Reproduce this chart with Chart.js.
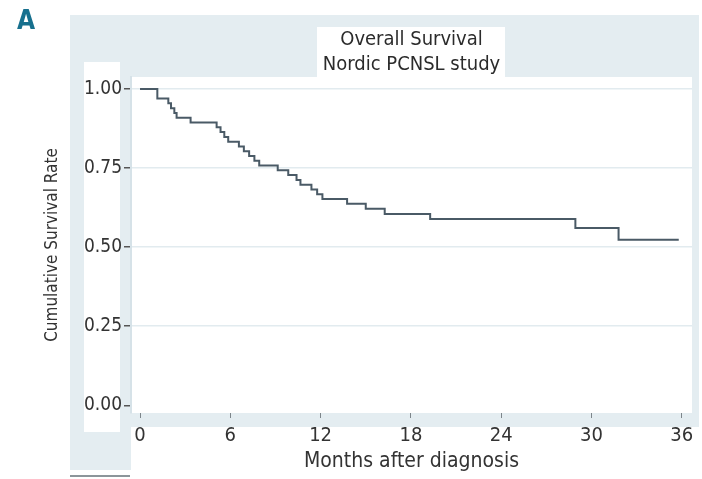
<!DOCTYPE html>
<html lang="en">
<head>
  <meta charset="UTF-8" />
  <title>Overall Survival - Nordic PCNSL study</title>
  <script src="https://cdn.jsdelivr.net/npm/chart.js"></script>
  <style>
    body {
      margin: 0;
      background: white;
    }
    #wrap {
      width: 702px;
      height: 479px;
    }
  </style>
</head>
<body>
  <div id="wrap"><canvas id="osChart"></canvas></div>

  <script>
    // Kaplan-Meier steps (months, cumulative survival)
    const months = [0, 1.15, 1.88, 2.06, 2.28, 2.43, 3.36, 5.09, 5.35, 5.6, 5.86,
      6.57, 6.9, 7.25, 7.6, 7.92, 9.15, 9.85, 10.4, 10.66, 11.39, 11.77, 12.12,
      13.76, 15.0, 16.26, 19.28, 28.93, 31.8, 35.8];
    const survival = [1.0, 0.970, 0.955, 0.939, 0.924, 0.909, 0.894, 0.879, 0.864, 0.848, 0.833,
      0.818, 0.803, 0.788, 0.773, 0.758, 0.743, 0.728, 0.712, 0.697, 0.682, 0.667, 0.652,
      0.637, 0.621, 0.605, 0.589, 0.560, 0.523, 0.523];

    const xTicks = [0, 6, 12, 18, 24, 30, 36];
    const yTicks = [0, 0.25, 0.5, 0.75, 1.0];
    const titleLines = ['Overall Survival', 'Nordic PCNSL study'];

    const FONT = "'Liberation Sans Narrow', 'DejaVu Sans Condensed', 'Roboto Condensed', 'Arial Narrow', sans-serif";
    const LIGHT = '#e4edf1';

    // panel backgrounds like the scanned figure
    const panelBg = {
      id: 'panelBg',
      beforeDraw(chart) {
        const { ctx, chartArea: a } = chart;
        ctx.save();
        ctx.fillStyle = 'white';
        ctx.fillRect(0, 0, chart.width, chart.height);
        ctx.fillStyle = LIGHT;
        ctx.fillRect(70, 15, 629, 455);
        ctx.fillStyle = 'white';
        ctx.fillRect(a.left, a.top, a.right - a.left, a.bottom - a.top);
        ctx.fillRect(a.left, a.bottom + 14, chart.width - a.left, chart.height - a.bottom - 14);
        ctx.fillRect(84, 62, 36, 370);
        ctx.fillRect(317, 27, 188, a.top - 27);
        ctx.fillStyle = '#8c959a';
        ctx.fillRect(70, 475, 60, 2);
        ctx.restore();
      },
      afterDraw(chart) {
        const { ctx } = chart;
        ctx.save();
        ctx.fillStyle = '#17708e';
        ctx.font = "bold 26px " + FONT;
        ctx.textBaseline = 'top';
        ctx.fillText('A', 17, 9);
        ctx.restore();
      }
    };

    const ctx = document.getElementById('osChart').getContext('2d');
    new Chart(ctx, {
      type: 'line',
      data: {
        datasets: [{
          data: months.map((m, i) => ({ x: m, y: survival[i] })),
          borderColor: '#4a5a66',
          borderWidth: 2,
          stepped: true,
          pointRadius: 0,
          fill: false
        }]
      },
      options: {
        responsive: true,
        maintainAspectRatio: false,
        animation: false,
        devicePixelRatio: 1,
        layout: { padding: { left: 0, top: 0, right: 10, bottom: 0 } },
        scales: {
          x: {
            type: 'linear',
            min: -0.6,
            max: 36.68,
            afterBuildTicks: s => { s.ticks = xTicks.map(v => ({ value: v })); },
            afterFit: s => { s.height = 66; },
            grid: { drawOnChartArea: false, tickLength: 5, tickColor: '#7d868b', tickWidth: 1 },
            border: { display: false },
            ticks: { color: '#333', font: { family: FONT, size: 20 }, padding: 6 },
            title: {
              display: true,
              text: 'Months after diagnosis',
              color: '#333',
              font: { family: FONT, size: 21 },
              padding: { top: 0, bottom: 5 }
            }
          },
          y: {
            min: -0.0244,
            max: 1.0377,
            afterBuildTicks: s => { s.ticks = yTicks.map(v => ({ value: v })); },
            afterFit: s => { s.width = 131; },
            grid: {
              color: c => (c.tick && c.tick.value === 0) ? 'rgba(0,0,0,0)' : '#e2ebef',
              tickColor: '#555',
              tickLength: 7,
              lineWidth: 1.5
            },
            border: { color: '#d6e2e8', width: 2 },
            ticks: {
              color: '#333',
              font: { family: FONT, size: 19 },
              padding: 2,
              callback: v => v.toFixed(2)
            },
            title: {
              display: true,
              text: 'Cumulative Survival Rate',
              color: '#333',
              font: { family: FONT, size: 17 },
              padding: { top: 42, bottom: 0 }
            }
          }
        },
        plugins: {
          legend: { display: false },
          tooltip: { enabled: false },
          title: {
            display: true,
            fullSize: false,
            text: titleLines,
            color: '#2b2b2b',
            font: { family: FONT, size: 20, weight: 'normal', lineHeight: 1.25 },
            padding: { top: 27, bottom: 0 }
          }
        }
      },
      plugins: [panelBg]
    });
  </script>
</body>
</html>
